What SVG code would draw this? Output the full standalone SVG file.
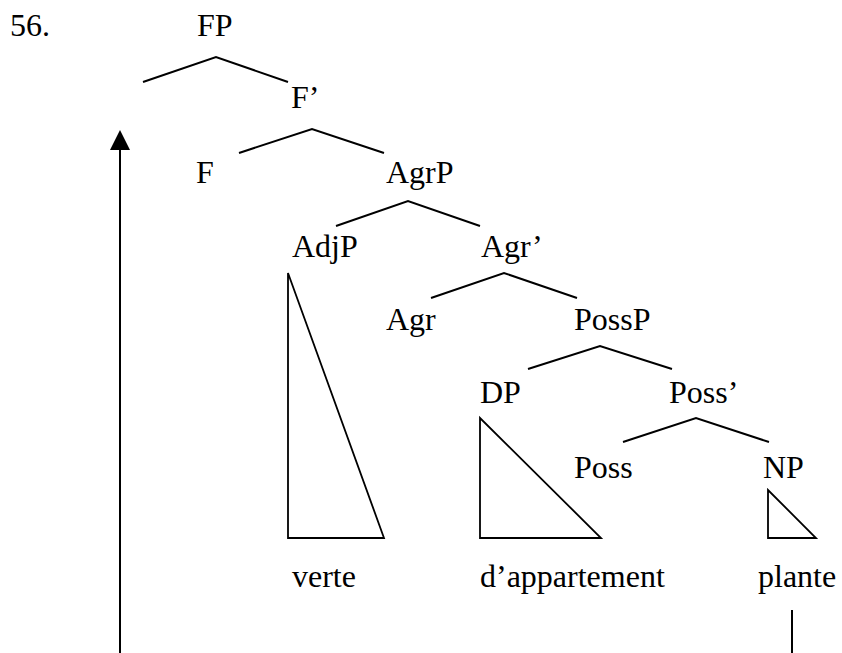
<svg xmlns="http://www.w3.org/2000/svg" width="842" height="653" viewBox="0 0 842 653">
<style>
text{font-family:"Liberation Serif","Times New Roman",serif;font-size:32px;fill:#000}
.br{fill:none;stroke:#000;stroke-width:2;stroke-linejoin:miter}
.tri{fill:none;stroke:#000;stroke-width:1.8;stroke-linejoin:miter}
</style>
<rect width="842" height="653" fill="#fff"/>
<text x="10" y="36">56.</text>
<g id="FP"><text x="197" y="36">FP</text></g>
<g id="Fbar"><text x="291" y="108">F’</text></g>
<g id="F"><text x="196" y="183">F</text></g>
<g id="AgrP"><text x="386" y="183">AgrP</text></g>
<g id="AdjP"><text x="292" y="257">AdjP</text></g>
<g id="Agrbar"><text x="481" y="257">Agr’</text></g>
<g id="Agr"><text x="386" y="330">Agr</text></g>
<g id="PossP"><text x="574" y="330">PossP</text></g>
<g id="DP"><text x="480" y="403">DP</text></g>
<g id="Possbar"><text x="669" y="403">Poss’</text></g>
<g id="Poss"><text x="574" y="478">Poss</text></g>
<g id="NP"><text x="763" y="478">NP</text></g>
<g id="verte"><text x="292" y="587">verte</text></g>
<g id="dappartement"><text x="480" y="587">d’appartement</text></g>
<g id="plante"><text x="758" y="587">plante</text></g>
<g id="connectors">
<polyline class="br" points="143,82 216,57 288,82"/>
<polyline class="br" points="239,153 312,129 384,153"/>
<polyline class="br" points="336,226 408,201 480,226"/>
<polyline class="br" points="431,298 504,273 577,298"/>
<polyline class="br" points="528,369 600,346 672,369"/>
<polyline class="br" points="623,442 696,418 769,442"/>
<polygon class="tri" points="288,273 288,538 384,538"/>
<polygon class="tri" points="480,418 480,538 601,538"/>
<polygon class="tri" points="768,490 768,538 816,538"/>
<line class="br" x1="120" y1="653" x2="120" y2="148"/>
<polygon points="120,130 110,150 130,150" fill="#000"/>
<line class="br" x1="792" y1="610" x2="792" y2="653"/>
</g>
</svg>
